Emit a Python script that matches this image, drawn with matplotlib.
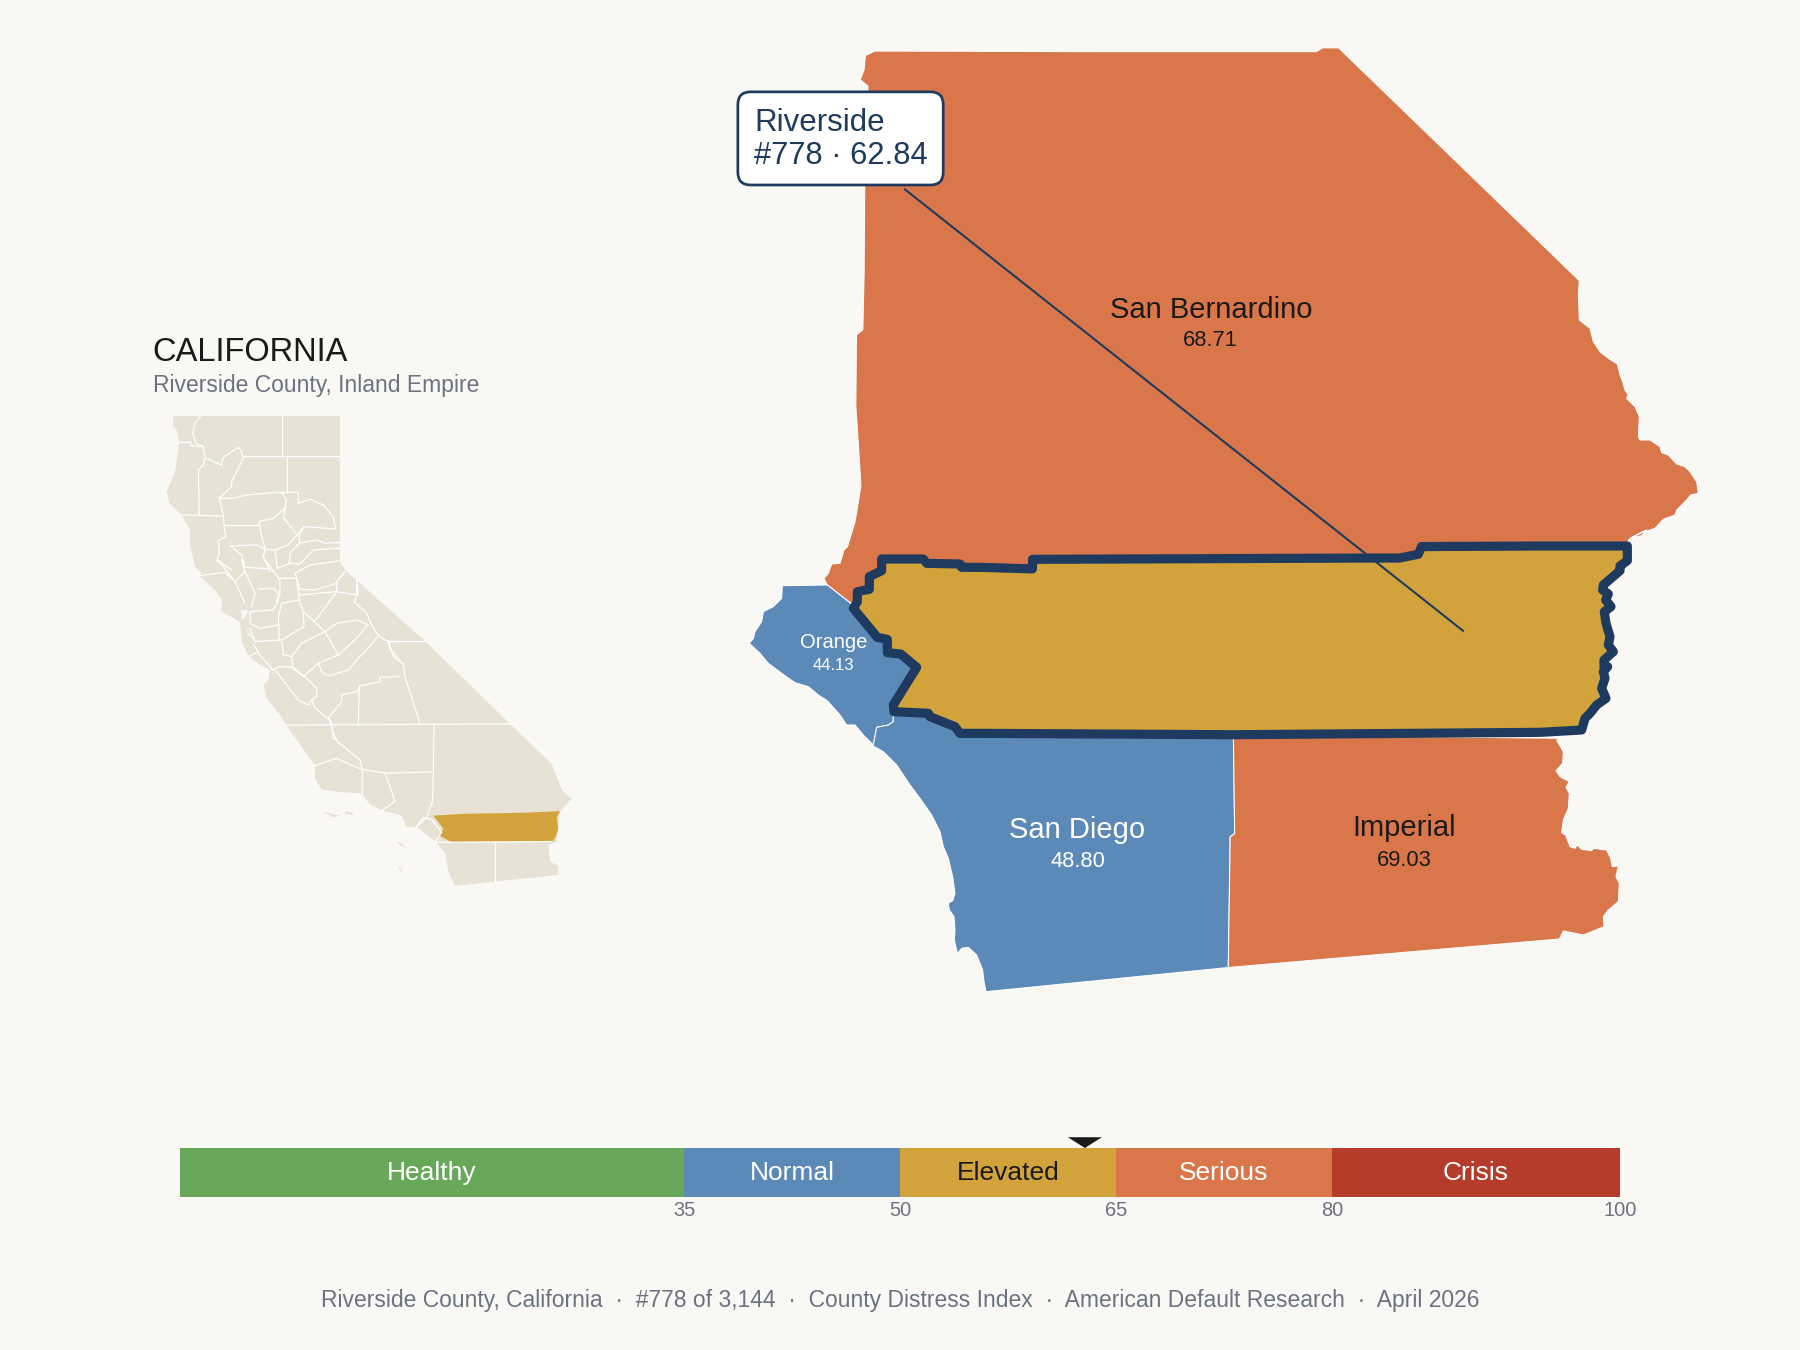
import numpy as np
import matplotlib
matplotlib.use("Agg")
import matplotlib.pyplot as plt
from matplotlib.patches import FancyBboxPatch

plt.rcParams['font.family'] = ['Liberation Sans', 'DejaVu Sans']

BG = '#FAF8F5'
LAND = '#E8E2D6'
GREEN = '#67A85A'
BLUE = '#5B89B8'
GOLD = '#D1A33A'
ORANGE = '#D9774A'
RED = '#B53B2A'
NAVY = '#1F3A5F'
DARK = '#1A1A1A'
MUTED = '#6B7280'


def main_units(points, x0, y0):
    return [((x0 + x / 3 - 720) * 1.568, (y0 + y / 3 - 30) * 1.568) for x, y in points]


def ca_units(points, x0, y0):
    return [((x0 + x / 3 - 130) * 3, (y0 + y / 3 - 320) * 2.703) for x, y in points]


# main map pieces
sb_left = [(243,33),(228,40),(226,62),(220,78),(232,88),(232,97),(227,240),(226,380),(224,470),(214,478),(213,590),
    (217,650),(221,715),(212,770),(200,810)]
sb_corner = main_units([(312,0),(300,40),(275,42),(265,70),(252,85),(262,105),(330,158)], 740, 550)
sb_hidden = [(500,900),(1100,900)]
sb_south = main_units([(240,60),(262,48),(265,30),(290,15),(320,0)], 1540, 530)
sb_east = main_units([(270,805),(305,797),(315,785),(345,775),(370,748),(405,735),(410,720),(440,690),(452,675),(475,670),
    (470,635),(450,605),(435,590),(410,582),(385,555),(365,548),(360,530),(330,510),(300,510),(295,500),(298,440),(285,410),
    (260,385),(265,375),(255,360),(248,335),(240,315),(232,282),(205,265),(180,245),(160,215),(150,175),(118,150),(117,120),
    (115,70),(118,32),(85,0)], 1540, 270)
sb_top = [(970,28),(945,28),(935,34),(600,34)]
san_bernardino = sb_left + sb_corner + sb_hidden + sb_south + sb_east + sb_top

orange = main_units([(127,107),(262,105),(330,158),(340,175),(412,262),(442,268),(442,308),(482,312),(530,352),(460,465),
    (460,515),(445,525),(410,532),(400,585),(370,555),(345,525),(320,525),(300,495),(262,452),(235,435),(205,410),(165,398),
    (125,370),(85,340),(60,310),(28,280),(40,265),(45,245),(65,215),(70,185),(100,170),(125,145)], 740, 550)

sd_north = main_units([(400,585),(410,532),(445,525),(460,515),(460,485),(565,490),(570,500),(645,530),(660,550)], 740, 550)
sd_east = [(805,1105),(807,1260),(800,1265),(797,1470)]
sd_coast = main_units([(378,785),(372,755),(368,720),(350,675),(325,652),(305,655),(292,670),(283,630),(285,600),(282,560),
    (268,540),(265,520),(278,512),(285,490),(278,440),(265,385),(250,350),(240,305),(215,255),(180,205),(150,165),(110,105),
    (70,65),(40,48)], 860, 730)
san_diego = sd_north + sd_east + sd_coast

imperial_east = main_units([(135,25),(110,30),(130,65),(128,100),(108,122),(120,140),(148,155),(138,172),(148,190),(145,235),
    (130,270),(125,308),(137,315),(150,350),(165,355),(172,345),(185,358),(215,362),(220,355),(260,360),(272,385),(277,410),
    (295,408),(288,440),(298,460),(295,515),(265,540),(250,560),(252,590),(215,605),(190,615),(130,603),(118,627)], 1520, 730)
imperial = [(805,1105)] + imperial_east + [(797,1470),(800,1265),(807,1260)]

rv_nw = main_units([(425,27),(550,27),(560,40),(660,42),(665,52),(720,52)], 740, 550)
rv_north = [(490,845),(490,830),(1015,828),(1065,828),(1095,822),(1100,810)]
rv_east = main_units([(0,48),(262,48),(262,92),(240,108),(240,122),(205,152),(190,165),(188,180),(205,192),(197,210),(213,230),
    (193,245),(198,280),(210,320),(205,345),(220,365),(192,390),(192,412),(203,410),(190,425),(195,445),(185,475),(198,505),
    (170,525),(150,550),(135,565),(125,600),(0,607)], 1540, 530)
rv_south = [(805,1105)]
rv_west = main_units([(720,550),(660,550),(645,530),(570,500),(565,490),(462,485),(460,465),(530,352),(482,312),(442,308),
    (442,268),(412,262),(340,175),(352,155),(352,125),(388,118),(388,80),(425,62)], 740, 550)
riverside = rv_nw + rv_north + rv_east + rv_south + rv_west
leader = [(290,250),(1165,942)]

# california inset pieces
ca_north_coast = ca_units([(125,490),(105,470),(90,405),(90,360),(65,315),(28,280),(20,245),(45,185),(50,155),(58,97),(50,60),
    (40,50),(40,18)], 160, 410)
ca_mid_coast = ca_units([(265,505),(240,465),(200,415),(190,375),(205,360),(210,330),(180,315),(145,290),(125,240),(120,185),
    (65,155),(65,120),(45,90),(0,50)], 200, 560)
ca_top = ca_units([(540,18),(540,455),(555,480)], 160, 410)
ca_south = [(885,868),(1140,1092),(1265,1200),(1295,1270),(1325,1295),(1290,1328),(1280,1410),(1255,1420),(1260,1465),(1285,1475),
    (1285,1500),(1095,1518),(975,1530),(955,1490),(945,1440),(918,1412),(860,1370),(830,1372),(815,1340),(755,1325),(720,1310),
    (695,1280),(620,1275),(575,1270),(555,1240),(555,1205),(520,1160)]
ca_outline = ca_top + ca_south + ca_mid_coast + ca_north_coast
ca_riverside = [(910,1340),(1000,1335),(1185,1332),(1290,1328),(1280,1345),(1285,1375),(1278,1395),(1268,1410),(965,1412),(930,1395),(940,1375)]
ca_islands = [[(580,1330),(605,1335),(630,1340),(610,1345)], [(645,1328),(670,1332),(668,1338),(648,1336)],
    [(800,1408),(830,1425),(812,1422)], [(800,1470),(822,1495),(812,1490)], [(685,1433),(695,1438),(688,1438)]]
ca_bay = ca_units([(125,150),(145,150),(135,175),(125,180)], 200, 560)
ca_bay2 = ca_units([(135,205),(165,240),(145,225)], 200, 560)

north_lines = [
    [(367,18),(367,137)], [(540,137),(248,137)], [(382,137),(382,247)],
    [(122,18),(105,40),(98,70),(108,100),(130,110),(135,145),(130,165),(115,180),(118,315)],
    [(58,97),(92,97),(92,108),(130,110)],
    [(135,145),(150,150),(185,165),(190,142),(235,112),(245,125),(250,145),(235,175),(215,215),(215,230),(178,265),(190,315),(192,345),(197,380)],
    [(65,315),(190,318)],
    [(178,265),(220,265),(260,255),(340,248),(415,247),(415,280),(450,268),(490,285),(520,320),(527,357)],
    [(365,248),(380,270),(375,295),(372,325),(412,375)],
    [(375,295),(340,325),(297,335),(305,380),(315,415)],
    [(192,345),(297,345)],
    [(527,357),(432,350),(412,375),(385,405),(345,420),(315,418)],
    [(432,350),(418,375),(418,400),(470,390),(495,400),(540,397)],
    [(418,400),(390,430),(388,460),(420,462),(460,420),(540,415)],
    [(345,420),(352,475),(390,460)],
    [(197,380),(175,392),(178,430),(172,450),(215,480)],
    [(212,408),(290,405),(315,418),(310,440),(330,485)],
    [(212,408),(245,435),(255,472),(330,477)],
]
mid_lines = [
    [(0,47),(75,37),(105,65),(135,130)], [(50,0),(70,20),(105,65)], [(125,0),(135,35),(105,65)], [(135,35),(165,100),(155,140)],
    [(175,88),(220,85),(235,100),(235,125),(220,150),(150,155)], [(195,0),(240,60),(240,100),(228,125)],
    [(235,55),(290,55),(298,120),(245,130),(235,170),(238,240)], [(298,120),(310,155),(312,200),(245,240)],
    [(290,55),(300,88),(345,90),(410,70),(410,95),(300,105)], [(290,55),(285,40),(330,15),(405,5),(420,0)],
    [(410,95),(355,170),(340,185)], [(310,155),(375,215),(415,285)], [(375,215),(305,250),(275,290),(278,320),(310,350)],
    [(375,215),(410,190),(470,180),(505,195)], [(415,285),(470,235),(500,198)], [(435,35),(410,65)],
    [(410,95),(470,105),(470,60)], [(470,60),(475,100),(462,125),(500,160),(515,195),(535,228)],
    [(535,228),(495,275),(475,295),(445,330),(385,348),(365,335),(355,310),(415,285)], [(355,310),(310,350),(275,322),(240,320),(215,330)],
    [(535,228),(565,245),(600,245)], [(565,245),(570,265),(590,290),(600,300)],
    [(600,350),(540,352),(540,365),(480,378),(470,395),(425,405),(425,425),(385,475),(395,492)], [(478,378),(475,490)],
    [(150,155),(150,190),(180,205),(235,195)], [(165,245),(245,240),(250,285),(275,290)], [(160,255),(175,275),(145,290)], [(175,280),(215,325)],
    [(225,330),(260,375),(295,420),(325,435),(340,415),(350,410),(350,385),(315,350),(275,322)],
    [(335,420),(345,445),(390,480),(400,520),(410,540)], [(150,205),(165,245)],
]
south_lines = [
    [(775,868),(885,868)], [(775,868),(790,910),(820,930),(825,965),(870,1090)],
    [(470,1095),(1140,1092)], [(605,1095),(610,1130),(690,1190),(697,1220),(697,1280)],
    [(555,1205),(620,1185),(695,1215),(765,1225),(910,1222)], [(912,1095),(910,1222),(908,1300),(890,1345),(860,1370)],
    [(765,1225),(795,1300),(755,1328)], [(860,1370),(880,1345),(905,1350),(935,1385),(915,1412)],
    [(1095,1412),(1095,1518)], [(918,1412),(1265,1410)],
]
ca_borders = [ca_units(s, 160, 410) for s in north_lines] + [ca_units(s, 200, 560) for s in mid_lines] + south_lines

# distress scale
bands = ['Healthy', 'Normal', 'Elevated', 'Serious', 'Crisis']
band_edges = [0, 35, 50, 65, 80, 100]
band_colors = [GREEN, BLUE, GOLD, ORANGE, RED]
band_text = ['white', 'white', DARK, 'white', 'white']
score = 62.84


def px_axes(fig, x, y, w, h):
    return fig.add_axes([x / 1800, 1 - (y + h) / 1350, w / 1800, h / 1350])


fig = plt.figure(figsize=(12, 9), dpi=150, facecolor=BG)

# main map
ax = px_axes(fig, 720, 30, 1000, 1000)
ax.set_xlim(0, 1568)
ax.set_ylim(1568, 0)
ax.axis('off')
for pts, col in [(san_bernardino, ORANGE), (orange, BLUE), (san_diego, BLUE), (imperial, ORANGE)]:
    ax.fill(*zip(*pts), facecolor=col, edgecolor='white', linewidth=0.5)
ax.fill(*zip(*riverside), facecolor=GOLD, edgecolor=NAVY, linewidth=4.4, joinstyle='round')
ax.plot(*zip(*leader), color=NAVY, linewidth=1.0)
ax.text(770, 439, 'San Bernardino', fontsize=14, color=DARK, ha='center', va='center')
ax.text(769, 487, '68.71', fontsize=10.5, color=DARK, ha='center', va='center')
ax.text(178, 961, 'Orange', fontsize=9.7, color='white', ha='center', va='center')
ax.text(178, 997, '44.13', fontsize=8, color='white', ha='center', va='center')
ax.text(560, 1255, 'San Diego', fontsize=14, color='white', ha='center', va='center')
ax.text(561, 1304, '48.80', fontsize=10.5, color='white', ha='center', va='center')
ax.text(1073, 1252, 'Imperial', fontsize=14, color=DARK, ha='center', va='center')
ax.text(1073, 1302, '69.03', fontsize=10.5, color=DARK, ha='center', va='center')
ax.add_patch(FancyBboxPatch((28, 97), 322, 146, boxstyle='round,pad=0,rounding_size=20',
                            facecolor='white', edgecolor=NAVY, linewidth=1.3, zorder=5))
ax.text(54, 146, 'Riverside', fontsize=15, color=NAVY, va='center', zorder=6)
ax.text(54, 197, '#778 · 62.84', fontsize=14.8, color=NAVY, va='center', zorder=6)

# california inset
axc = px_axes(fig, 130, 320, 480, 580)
axc.set_xlim(0, 1440)
axc.set_ylim(1568, 0)
axc.axis('off')
axc.fill(*zip(*ca_outline), facecolor=LAND, edgecolor='none')
for isl in ca_islands:
    axc.fill(*zip(*isl), facecolor=LAND, edgecolor='none')
for seg in ca_borders:
    axc.plot(*zip(*seg), color='white', linewidth=0.6)
axc.fill(*zip(*ca_bay), facecolor=BG, edgecolor='none')
axc.fill(*zip(*ca_bay2), facecolor=BG, edgecolor='none')
axc.fill(*zip(*ca_riverside), facecolor=GOLD, edgecolor='none')

fig.text(152 / 1800, 1 - 352.5 / 1350, 'CALIFORNIA', fontsize=15.7, color=DARK, va='center')
fig.text(153 / 1800, 1 - 385.5 / 1350, 'Riverside County, Inland Empire', fontsize=11, color=MUTED, va='center')

# scale bar
axb = px_axes(fig, 180, 1148, 1440, 49)
axb.set_xlim(0, 100)
axb.set_ylim(0, 1)
for i in range(len(bands)):
    lo, hi = band_edges[i], band_edges[i + 1]
    axb.barh(0.5, hi - lo, left=lo, height=1, color=band_colors[i])
    axb.text((lo + hi) / 2, 0.34, bands[i], color=band_text[i], fontsize=12.7, ha='center', va='baseline')
axb.fill([score - 1.18, score + 1.18, score], [1.22, 1.22, 1.0], color=DARK, clip_on=False, linewidth=0)
axb.set_xticks(band_edges[1:])
axb.set_xticklabels([str(v) for v in band_edges[1:]], fontsize=9.6, color=MUTED)
axb.tick_params(axis='x', length=0, pad=2)
axb.set_yticks([])
for s in axb.spines.values():
    s.set_visible(False)

footer = '  ·  '.join(['Riverside County, California', '#778 of 3,144', 'County Distress Index',
                       'American Default Research', 'April 2026'])
fig.text(0.5, 1 - 1300.5 / 1350, footer, fontsize=11, color=MUTED, ha='center', va='center')

fig.savefig('out.png', dpi=150, facecolor=BG)
